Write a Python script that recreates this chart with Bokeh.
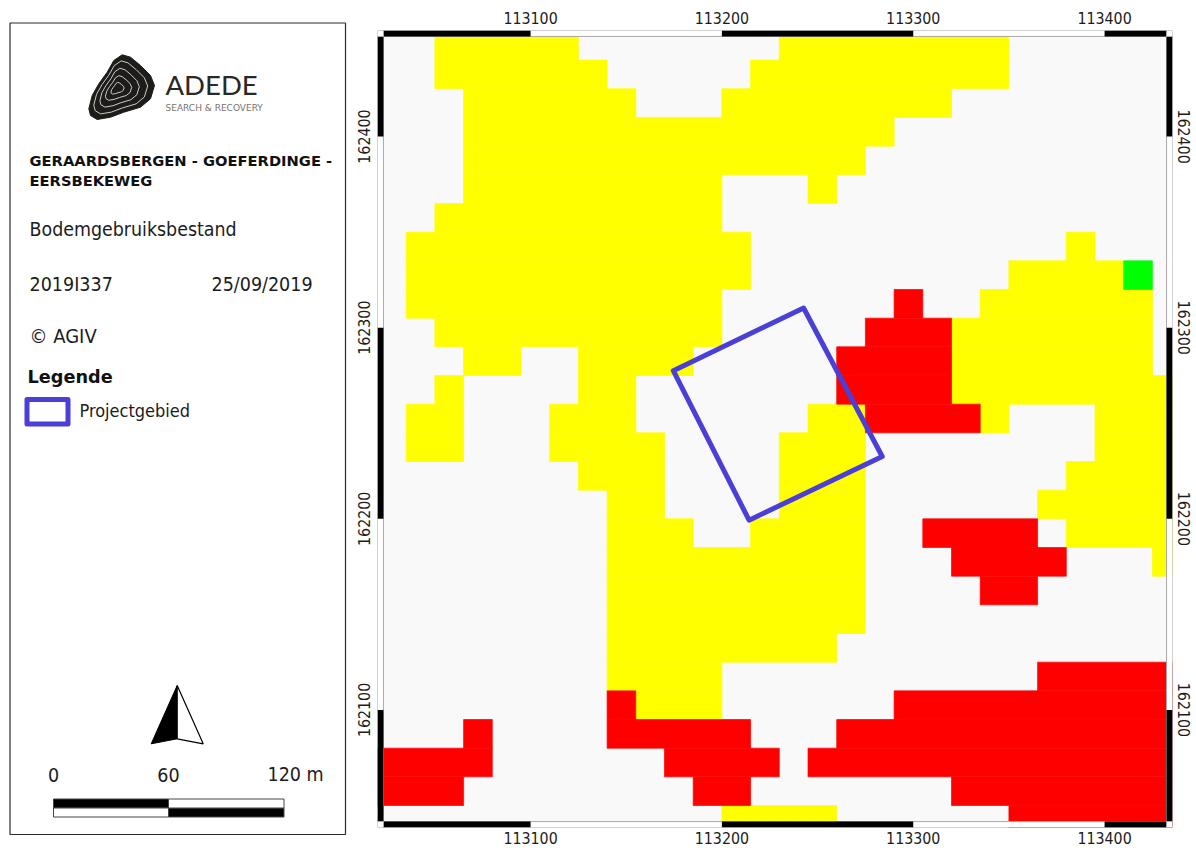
from bokeh.plotting import figure
from bokeh.layouts import row
from bokeh.models import Range1d, LinearAxis, FixedTicker, NumeralTickFormatter
from bokeh.core.properties import value
from bokeh.embed import file_html
from bokeh.resources import INLINE

# ---------- map data ----------
X_TICKS = [113100, 113200, 113300, 113400]
Y_TICKS = [162100, 162200, 162300, 162400]
CELL = 15
GRID_X0 = 113020
GRID_Y0 = 162455

# (row, first column, last column)
YELLOW = [(0,2,6),(0,14,21),(1,2,7),(1,13,21),(2,3,8),(2,12,19),(3,3,17),(4,3,16),
          (5,3,11),(5,15,15),(6,2,11),(7,1,12),(7,24,24),(8,1,12),(8,22,25),
          (9,1,11),(9,21,26),(10,2,11),(10,20,26),(11,3,4),(11,7,10),(11,20,26),
          (12,2,2),(12,7,8),(12,20,27),(13,1,2),(13,6,8),(13,15,16),(13,21,21),(13,25,27),
          (14,1,2),(14,6,9),(14,14,16),(14,25,27),(15,7,9),(15,14,16),(15,24,27),
          (16,8,9),(16,14,16),(16,23,27),(17,8,10),(17,13,16),(17,24,27),
          (18,8,16),(18,27,27),(19,8,16),(20,8,16),(21,8,15),(22,8,11),(23,9,11),(27,12,15)]
RED = [(9,18,18),(10,17,19),(11,16,19),(12,16,19),(13,17,20),(17,19,22),(18,20,23),(19,21,22),
       (22,23,27),(23,8,8),(23,18,27),(24,3,3),(24,8,12),(24,16,27),(25,0,3),(25,10,13),(25,15,27),
       (26,0,2),(26,11,12),(26,20,27),(27,22,27)]
GREEN = [(8,26,26)]

PROJECT_X = [113242.7, 113174.6, 113214.2, 113283.8]
PROJECT_Y = [162310.3, 162277.5, 162199.3, 162232.6]

X_MIN, X_MAX = 113020.0, 113435.5
Y_MIN, Y_MAX = 162038.5, 162455.5
INNER_X0, INNER_X1 = 113023.1, 113432.4
INNER_Y0, INNER_Y1 = 162041.6, 162452.4

FONT = "DejaVu Sans Condensed"
TXT = "#1c1c1c"
BLUE = "#4a3fd6"

# ---------- map ----------
m = figure(frame_width=795, frame_height=797, x_range=Range1d(X_MIN, X_MAX), y_range=Range1d(Y_MIN, Y_MAX),
           output_backend="svg", toolbar_location=None, align="start",
           min_border_left=29, min_border_right=24, min_border_top=30, min_border_bottom=21,
           background_fill_color="#f9f9f9", border_fill_color=None, outline_line_color=None)
m.grid.visible = False

def add_cells(spans, color):
    m.quad(left=[GRID_X0 + c0 * CELL for _, c0, _c in spans],
           right=[GRID_X0 + (c1 + 1) * CELL for _, _c, c1 in spans],
           top=[GRID_Y0 - r * CELL for r, _, _c in spans],
           bottom=[GRID_Y0 - (r + 1) * CELL for r, _, _c in spans],
           fill_color=color, line_color=color, line_width=0.7)

add_cells(YELLOW, "#ffff00")
add_cells(RED, "#ff0000")
add_cells(GREEN, "#00ff00")

m.patch(PROJECT_X, PROJECT_Y, fill_color=None, line_color=BLUE, line_width=5, line_join="round")

# zebra frame
xe = [INNER_X0] + X_TICKS + [INNER_X1]
ye = [INNER_Y0] + Y_TICKS + [INNER_Y1]
GR = "#a8a8a8"
for b0, b1 in [(INNER_Y1, Y_MAX), (Y_MIN, INNER_Y0)]:
    m.quad(left=[INNER_X0], right=[INNER_X1], bottom=[b0], top=[b1], fill_color="white", line_color=GR, line_width=1)
    m.quad(left=xe[0::2], right=xe[1::2], bottom=[b0] * len(xe[0::2]), top=[b1] * len(xe[0::2]),
           fill_color="black", line_color=None)
for b0, b1 in [(X_MIN, INNER_X0), (INNER_X1, X_MAX)]:
    m.quad(left=[b0], right=[b1], bottom=[INNER_Y0], top=[INNER_Y1], fill_color="white", line_color=GR, line_width=1)
    lo = ye[0::2]; hi = ye[1::2]
    m.quad(left=[b0] * len(lo), right=[b1] * len(lo), bottom=lo, top=hi, fill_color="black", line_color=None)
for cx0, cx1 in [(X_MIN, INNER_X0), (INNER_X1, X_MAX)]:
    for cy0, cy1 in [(Y_MIN, INNER_Y0), (INNER_Y1, Y_MAX)]:
        m.quad(left=[cx0], right=[cx1], bottom=[cy0], top=[cy1], fill_color="white", line_color=GR, line_width=1)

def style(ax, ticks, vertical, standoff):
    ax.ticker = FixedTicker(ticks=ticks)
    ax.formatter = NumeralTickFormatter(format="0")
    ax.axis_line_color = None
    ax.major_tick_line_color = None
    ax.minor_tick_line_color = None
    ax.major_label_text_font = FONT
    ax.major_label_text_font_size = "15.8px"
    ax.major_label_text_color = TXT
    ax.major_label_standoff = standoff
    if vertical:
        ax.major_label_orientation = "vertical"

style(m.below[0], X_TICKS, False, -2)
style(m.left[0], Y_TICKS, True, 1)
top_ax = LinearAxis(); m.add_layout(top_ax, "above"); style(top_ax, X_TICKS, False, 1)
right_ax = LinearAxis(); m.add_layout(right_ax, "right"); style(right_ax, Y_TICKS, True, -1)

# ---------- side panel (coordinates are page pixels) ----------
s = figure(frame_width=348, frame_height=848, x_range=Range1d(0, 348), y_range=Range1d(848, 0),
           output_backend="svg", toolbar_location=None, align="start",
           min_border_left=0, min_border_right=0, min_border_top=0, min_border_bottom=30,
           margin=(-30, 0, -30, 0),
           x_axis_location=None, y_axis_location=None,
           background_fill_color=None, border_fill_color=None, outline_line_color=None)
s.grid.visible = False

s.quad(left=[9.5], right=[345], top=[22.5], bottom=[834], fill_color="white", line_color="#2a2a2a", line_width=1.2)

# logo
BLOB_X = [88.3, 91.7, 98.3, 106.7, 113.3, 121.7, 130, 140, 150, 154, 150, 140, 123.3, 110, 96.7, 90]
BLOB_Y = [108.3, 95, 83.3, 71.7, 60, 54.3, 56.7, 65, 75, 85, 98.3, 106.7, 111.7, 116.7, 119, 115]
s.patch(BLOB_X, BLOB_Y, fill_color="#1e1c1a", line_color="#1e1c1a", line_width=1, line_join="round")
CX, CY = 116, 88
for k, (sx, sy) in enumerate([(0.82, 0.82), (0.6, 0.6), (0.4, 0.38), (0.2, 0.18)]):
    xs = [CX + (x - CX) * sx for x in BLOB_X]
    ys = [CY + (y - CY) * sy for y in BLOB_Y]
    s.line(xs + xs[:1], ys + ys[:1], line_color="#cfcbc4", line_width=1.0)

def txt(x, y, t, size, bold=False, font=FONT, color=TXT, align="left"):
    s.text([x], [y], text=[t], text_font=value(font), text_font_size=size,
           text_font_style="bold" if bold else "normal", text_color=color,
           text_align=align, text_baseline="alphabetic")

txt(165, 84, "ADEDE", "27.5px", font="Lato", color="#2a2825")
txt(165, 107, "SEARCH & RECOVERY", "9px", font="DejaVu Sans", color="#77736e")
txt(29, 160, "GERAARDSBERGEN - GOEFERDINGE -", "14.7px", bold=True, font="DejaVu Sans", color="#111111")
txt(29, 180, "EERSBEKEWEG", "14.7px", bold=True, font="DejaVu Sans", color="#111111")
txt(29, 229, "Bodemgebruiksbestand", "19.4px")
txt(29, 284, "2019I337", "19.5px")
txt(211, 284, "25/09/2019", "19.5px")
txt(29, 335, "\u00a9 AGIV", "20px")
txt(27, 376, "Legende", "17.7px", bold=True, font="DejaVu Sans", color="#111111")
txt(79, 410, "Projectgebied", "18px")

s.patch([26.5, 67.5, 67.5, 26.5], [399, 399, 423.5, 423.5], fill_color="white", line_color=BLUE,
        line_width=5, line_join="round")

# north arrow
s.patch([176.7, 150.7, 176.7], [685, 743.3, 738.3], fill_color="black", line_color="black", line_width=1)
s.patch([176.7, 202.7, 176.7], [685, 743.3, 738.3], fill_color="white", line_color="black", line_width=1.2)

# scale bar
SCALE_LABELS = ["0", "60", "120 m"]
txt(53, 774, SCALE_LABELS[0], "19.5px", align="center")
txt(168, 774, SCALE_LABELS[1], "19.5px", align="center")
txt(267, 774, SCALE_LABELS[2], "19.5px")
s.quad(left=[53, 168], right=[168, 283.5], top=[798.5, 807.5], bottom=[807.5, 816.5],
       fill_color="black", line_color="#444444", line_width=1)
s.quad(left=[168, 53], right=[283.5, 168], top=[798.5, 807.5], bottom=[807.5, 816.5],
       fill_color="white", line_color="#444444", line_width=1)

page = row(s, m, spacing=0)
open("out.html", "w").write(file_html(page, INLINE))
